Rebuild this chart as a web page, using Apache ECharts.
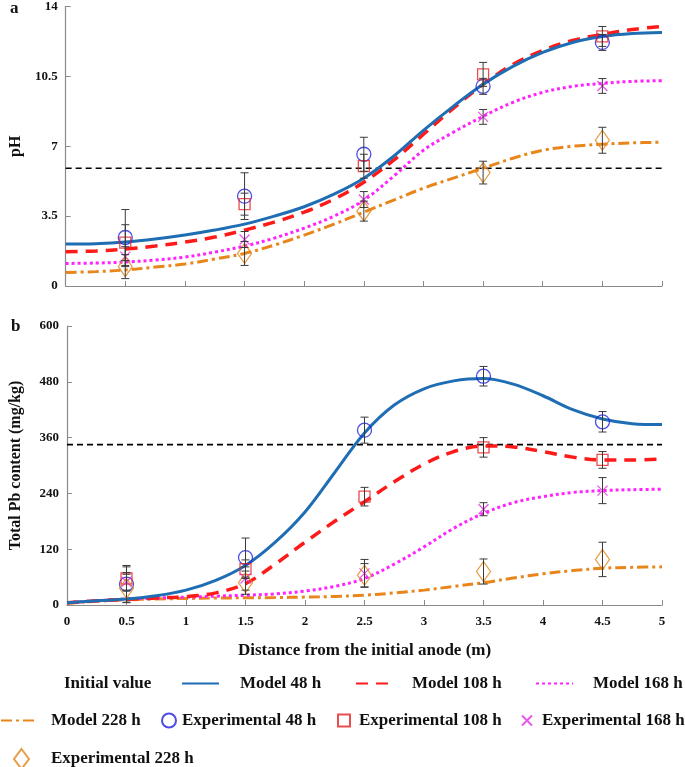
<!DOCTYPE html>
<html>
<head>
<meta charset="utf-8">
<script src="https://cdn.jsdelivr.net/npm/echarts@6/dist/echarts.min.js"></script>
<style>html,body{margin:0;padding:0;background:#fff}#c{width:685px;height:767px}</style>
</head>
<body>
<div id="c"></div>
<script>
// ---------- data ----------
const xModel = [0,0.25,0.5,0.75,1,1.25,1.5,1.75,2,2.25,2.5,2.75,3,3.25,3.5,3.75,4,4.25,4.5,4.75,5];
const xExp = [0.5,1.5,2.5,3.5,4.5];
const xTickLabels = ['0','0.5','1','1.5','2','2.5','3','3.5','4','4.5','5'];

// panel a: pH
const phModel48  = [2.1,2.12,2.2,2.35,2.55,2.8,3.1,3.5,3.97,4.6,5.4,6.5,7.8,9.0,10.1,11.0,11.7,12.2,12.5,12.65,12.7];
const phModel108 = [1.72,1.75,1.85,2.0,2.2,2.45,2.8,3.2,3.7,4.35,5.2,6.3,7.6,8.9,10.1,11.1,11.8,12.3,12.6,12.85,13.0];
const phModel168 = [1.13,1.15,1.2,1.3,1.45,1.7,2.0,2.4,2.9,3.5,4.3,5.5,6.8,7.7,8.5,9.2,9.7,10.0,10.15,10.25,10.28];
const phModel228 = [0.68,0.72,0.8,0.95,1.1,1.35,1.63,2.05,2.55,3.1,3.7,4.3,4.9,5.4,5.9,6.4,6.8,7.0,7.1,7.17,7.2];
const phExp48  = [2.43,4.5,6.6,10.0,12.2];
const phExp108 = [2.17,4.1,6.0,10.6,12.5];
const phExp168 = [1.47,2.33,4.33,8.47,10.02];
const phExp228 = [0.97,1.63,3.75,5.68,7.3];
const phErr48  = [1.4,1.17,0.85,0.4,0.4];
const phErr108 = [0.9,0.55,0.6,0.6,0.5];
const phErr168 = [0.5,0.4,0.4,0.37,0.37];
const phErr228 = [0.6,0.6,0.5,0.57,0.65];
const phInitial = 5.9;
const phTicks = ['0','3.5','7','10.5','14'];

// panel b: total Pb (mg/kg)
const pbModel48  = [5,9,13,20,32,53,85,135,200,285,370,430,465,482,487,475,450,420,400,390,388];
const pbModel108 = [5,9,12,15,18,26,46,88,135,180,222,265,303,330,342,340,330,318,312,312,314];
const pbModel168 = [5,9,13,15,17,19,21,24,30,40,57,88,125,165,197,220,233,242,246,248,249];
const pbModel228 = [4,8,11,13,14,15,15.5,16,17,18.5,21,26,32,40,48,58,67,74,79,81,82];
const pbExp48  = [45,102,376,492,394];
const pbExp108 = [57,77,233,339,312];
const pbExp168 = [50,57,68,206,246];
const pbExp228 = [36,48,64,72,98];
const pbErr48  = [40,42,28,21,22];
const pbErr108 = [25,20,20,21,18];
const pbErr168 = [20,25,30,14,28];
const pbErr228 = [30,25,25,27,37];
const pbInitial = 345;
const pbTicks = ['0','120','240','360','480','600'];

// ---------- styles ----------
const FONT = 'Liberation Serif';
const C48 = '#1f6db3', C108 = '#ff1a1a', C168 = '#ff22ff', C228 = '#e8861c';
const CIRC = '#2020e0', SQ = '#e52222', XC = '#e030e0', DIA = '#e0861c';

const zip = (xs, ys) => xs.map((x, i) => [x, ys[i]]);
const errRows = (ys, es) => xExp.map((x, i) => [x, ys[i], es[i]]);

function modelLine(name, xi, ys, color, width, type) {
  return {type:'line', name, xAxisIndex:xi, yAxisIndex:xi, data:zip(xModel, ys), smooth:0.35,
    symbol:'none', lineStyle:{color, width, type}, itemStyle:{color}, z:3, silent:true};
}
function initLine(xi, v) {
  return {type:'line', name:'Initial value', xAxisIndex:xi, yAxisIndex:xi,
    data:[[0,v],[5,v]], symbol:'none', lineStyle:{color:'#000', width:1.6, type:[6,4]}, itemStyle:{color:'#000'}, z:2, silent:true};
}
function expPts(name, xi, ys, symbol, size, color) {
  return {type:'scatter', name, xAxisIndex:xi, yAxisIndex:xi, data:zip(xExp, ys), symbol, symbolSize:size,
    itemStyle:{color:'rgba(255,255,255,0)', borderColor:color, borderWidth:1.3}, z:5, silent:true};
}
function errBars(xi, rows) {
  return {type:'custom', xAxisIndex:xi, yAxisIndex:xi, data:rows, encode:{x:0, y:1}, z:6, silent:true,
    renderItem(params, api) {
      const x = api.value(0), y = api.value(1), e = api.value(2);
      const hi = api.coord([x, y + e]), lo = api.coord([x, y - e]);
      const w = 4, st = {stroke:'#3a3a3a', lineWidth:1};
      return {type:'group', children:[
        {type:'line', shape:{x1:hi[0], y1:hi[1], x2:lo[0], y2:lo[1]}, style:st},
        {type:'line', shape:{x1:hi[0]-w, y1:hi[1], x2:hi[0]+w, y2:hi[1]}, style:st},
        {type:'line', shape:{x1:lo[0]-w, y1:lo[1], x2:lo[0]+w, y2:lo[1]}, style:st}
      ]};
    }};
}

const SYM_X = 'path://M0,0L10,10M10,0L0,10';

const series = [];
[[0, phModel48, phModel108, phModel168, phModel228, phExp48, phExp108, phExp168, phExp228,
  [phErr48, phErr108, phErr168, phErr228], phInitial],
 [1, pbModel48, pbModel108, pbModel168, pbModel228, pbExp48, pbExp108, pbExp168, pbExp228,
  [pbErr48, pbErr108, pbErr168, pbErr228], pbInitial]].forEach(p => {
  const [xi, m48, m108, m168, m228, e48, e108, e168, e228, errs, init] = p;
  series.push(initLine(xi, init));
  series.push(modelLine('Model 228 h', xi, m228, C228, 3, [11,4,3,4]));
  series.push(modelLine('Model 168 h', xi, m168, C168, 3, [3,3]));
  series.push(modelLine('Model 108 h', xi, m108, C108, 3.5, [12,8]));
  series.push(modelLine('Model 48 h', xi, m48, C48, 3, 'solid'));
  series.push(expPts('Experimental 48 h', xi, e48, 'circle', 14, CIRC));
  series.push(expPts('Experimental 108 h', xi, e108, 'rect', 11, SQ));
  series.push(expPts('Experimental 168 h', xi, e168, SYM_X, 10, XC));
  series.push(expPts('Experimental 228 h', xi, e228, 'diamond', [14, 20], DIA));
  const rows = [].concat(errRows(e48, errs[0]), errRows(e108, errs[1]), errRows(e168, errs[2]), errRows(e228, errs[3]));
  series.push(errBars(xi, rows));
});

const axisLineStyle = {lineStyle:{color:'#8a8a8a', width:1.2}};
const labelStyle = {fontFamily:FONT, fontWeight:'bold', fontSize:13, color:'#111'};

function xAxis(gi, showLabels) {
  return {type:'value', gridIndex:gi, min:0, max:5, interval:0.5,
    axisLine:axisLineStyle, axisTick:{inside:true, length:5, lineStyle:{color:'#8a8a8a'}},
    splitLine:{show:false},
    axisLabel:{show:showLabels, ...labelStyle, margin:10,
      formatter:(v) => xTickLabels[Math.round(v * 2)]},
    name: showLabels ? 'Distance from the initial anode (m)' : '',
    nameLocation:'middle', nameGap:37,
    nameTextStyle:{fontFamily:FONT, fontWeight:'bold', fontSize:17, color:'#111'}};
}
function yAxis(gi, max, interval, ticks, name, gap) {
  return {type:'value', gridIndex:gi, min:0, max, interval,
    axisLine:{show:true, ...axisLineStyle}, axisTick:{show:true, inside:true, length:5, lineStyle:{color:'#8a8a8a'}},
    splitLine:{show:false},
    axisLabel:{...labelStyle, margin:8, formatter:(v) => ticks[Math.round(v / interval)]},
    name, nameLocation:'middle', nameGap:gap, nameRotate:90,
    nameTextStyle:{fontFamily:FONT, fontWeight:'bold', fontSize:16, color:'#111'}};
}

const legendText = {fontFamily:FONT, fontWeight:'bold', fontSize:17, color:'#111'};
function leg(name, left, top, w, h, pad, extra) {
  return Object.assign({show:true, selectedMode:false, data:[name], left, top, itemWidth:w, itemHeight:h,
    itemGap:0, padding:0, textStyle:{...legendText, padding:[0,0,0,pad]}}, extra || {});
}
const noSym = {itemStyle:{opacity:0}};

const legends = [
  leg('Initial value', 28, 675, 30, 14, 0, {itemStyle:{opacity:0}, lineStyle:{opacity:0}}),
  leg('Model 48 h', 181, 675, 37, 14, 16, noSym),
  leg('Model 108 h', 355, 675, 37, 14, 14, noSym),
  leg('Model 168 h', 535, 675, 37, 14, 15, noSym),
  leg('Model 228 h', 0, 712, 37, 14, 8, noSym),
  leg('Experimental 48 h', 161, 712, 14, 14, 1),
  leg('Experimental 108 h', 337, 712, 12, 12, 4),
  leg('Experimental 168 h', 521, 712, 10, 10, 5),
  leg('Experimental 228 h', 13, 748, 15, 20, 17)
];

const chart = echarts.init(document.getElementById('c'), null, {renderer:'canvas'});
chart.setOption({
  backgroundColor:'#fff',
  animation:false,
  grid:[
    {left:62, right:23, top:6, height:280},
    {left:62, right:23, top:326, height:279}
  ],
  xAxis:[xAxis(0, false), xAxis(1, true)],
  yAxis:[yAxis(0, 14, 3.5, phTicks, 'pH', 40), yAxis(1, 600, 120, pbTicks, 'Total Pb content (mg/kg)', 43)],
  legend:legends,
  graphic:[
    {type:'text', left:10, top:0, style:{text:'a', font:'bold 17px "Liberation Serif"', fill:'#111'}},
    {type:'text', left:11, top:318, style:{text:'b', font:'bold 17px "Liberation Serif"', fill:'#111'}}
  ],
  series
});
</script>
</body>
</html>
